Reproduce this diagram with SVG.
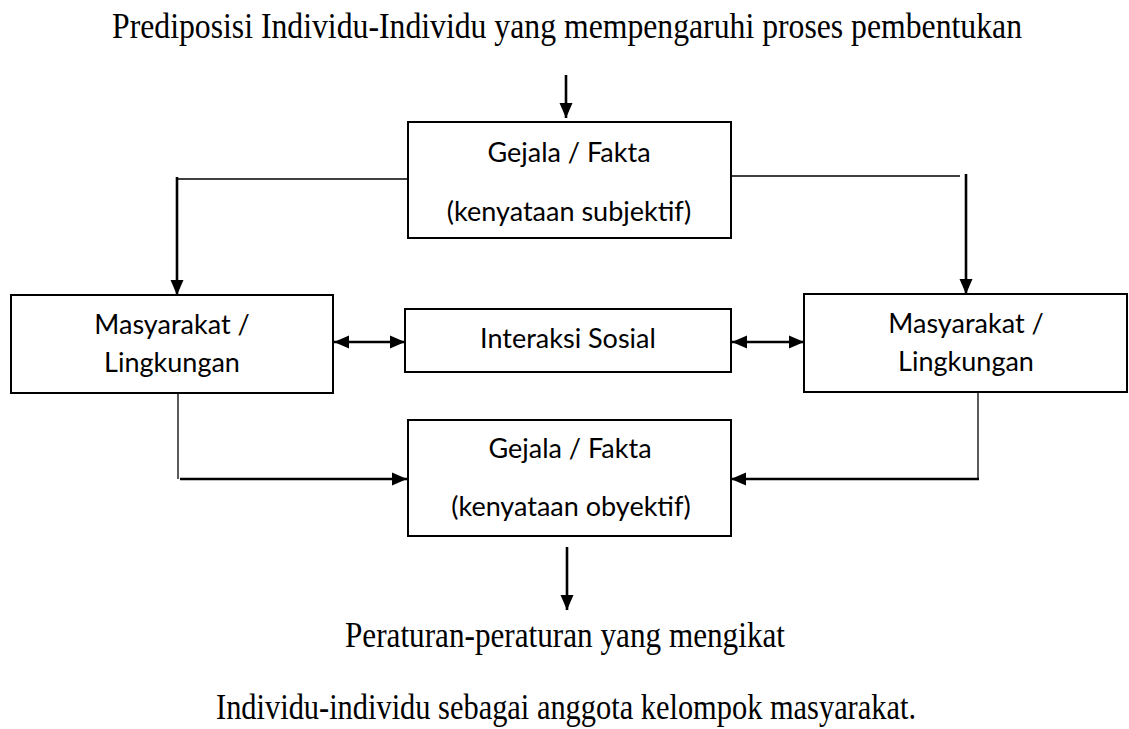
<svg xmlns="http://www.w3.org/2000/svg" width="1129" height="729" viewBox="0 0 1129 729">
<style>
.box{fill:#fff;stroke:#000;stroke-width:2}
.t{font-family:"Liberation Serif",serif;font-size:35px;fill:#000;text-anchor:middle}
.c{font-family:Lato,"Open Sans",sans-serif;font-size:27px;fill:#000;text-anchor:middle}
.thin{stroke:#000;stroke-width:1.3;fill:none}
.thick{stroke:#000;stroke-width:2.6;fill:none}
</style>
<defs>
<marker id="ah" markerUnits="userSpaceOnUse" markerWidth="16" markerHeight="14" refX="15" refY="7" orient="auto-start-reverse" viewBox="0 0 16 14">
<path d="M0,0.5 L15,7 L0,13.5 Z" fill="#000"/>
</marker>
</defs>
<rect width="1129" height="729" fill="#fff"/>
<text class="t" x="567" y="38" textLength="910" lengthAdjust="spacingAndGlyphs">Prediposisi Individu-Individu yang mempengaruhi proses pembentukan</text>
<g id="connectors">
<line class="thick" x1="566" y1="75" x2="566" y2="118" marker-end="url(#ah)"/>
<line class="thin" x1="177" y1="179" x2="408" y2="179"/>
<line class="thick" x1="177" y1="177" x2="177" y2="295" marker-end="url(#ah)"/>
<line class="thin" x1="731" y1="176" x2="960" y2="176"/>
<line class="thick" x1="966" y1="174" x2="966" y2="294" marker-end="url(#ah)"/>
<line class="thick" x1="334" y1="342" x2="405" y2="342" marker-start="url(#ah)" marker-end="url(#ah)"/>
<line class="thick" x1="732" y1="342" x2="804" y2="342" marker-start="url(#ah)" marker-end="url(#ah)"/>
<line class="thin" x1="178" y1="393" x2="178" y2="479"/>
<line class="thick" x1="180" y1="479" x2="407" y2="479" marker-end="url(#ah)"/>
<line class="thin" x1="978" y1="392" x2="978" y2="479"/>
<line class="thick" x1="979" y1="479" x2="731" y2="479" marker-end="url(#ah)"/>
<line class="thick" x1="567" y1="547" x2="567" y2="610" marker-end="url(#ah)"/>
</g>
<g id="top-box">
<rect class="box" x="408" y="122" width="323" height="116"/>
<text class="c" x="569" y="162">Gejala / Fakta</text>
<text class="c" x="569" y="221">(kenyataan subjektif)</text>
</g>
<g id="left-box">
<rect class="box" x="11" y="295" width="322" height="98"/>
<text class="c" x="172" y="334">Masyarakat /</text>
<text class="c" x="172" y="372">Lingkungan</text>
</g>
<g id="mid-box">
<rect class="box" x="405" y="309" width="326" height="63"/>
<text class="c" x="568" y="348">Interaksi Sosial</text>
</g>
<g id="right-box">
<rect class="box" x="804" y="294" width="323" height="98"/>
<text class="c" x="966" y="333">Masyarakat /</text>
<text class="c" x="966" y="371">Lingkungan</text>
</g>
<g id="bottom-box">
<rect class="box" x="408" y="420" width="323" height="116"/>
<text class="c" x="570" y="458">Gejala / Fakta</text>
<text class="c" x="571" y="516">(kenyataan obyektif)</text>
</g>
<text class="t" x="565" y="647" textLength="440" lengthAdjust="spacingAndGlyphs">Peraturan-peraturan yang mengikat</text>
<text class="t" x="566" y="719" textLength="700" lengthAdjust="spacingAndGlyphs">Individu-individu sebagai anggota kelompok masyarakat.</text>
</svg>
